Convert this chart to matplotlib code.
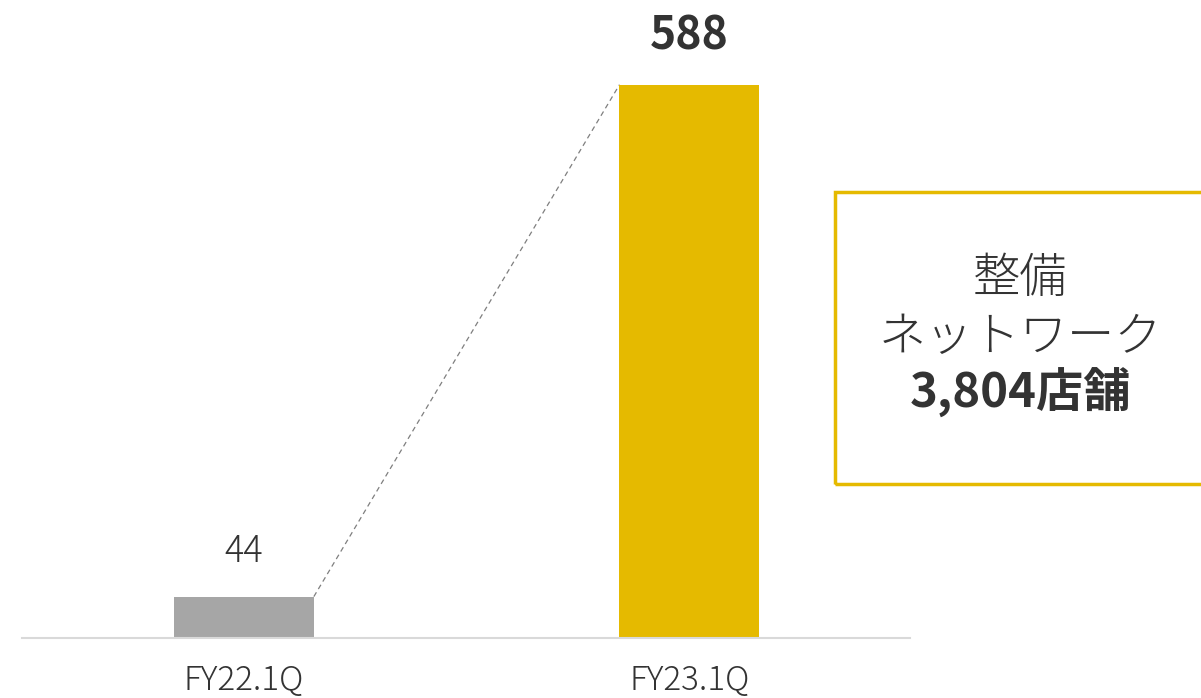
import matplotlib
matplotlib.use("Agg")
import matplotlib.pyplot as plt
from matplotlib.patches import Rectangle

plt.rcParams['font.family'] = ['Noto Sans CJK JP', 'DejaVu Sans']

# Data
periods = ['FY22.1Q', 'FY23.1Q']
stores = [44, 588]
bar_colors = ['#A6A6A6', '#E5BA00']
network_lines = ['整備', 'ネットワーク']
network_total = '3,804店舗'

TEXT = '#333333'
GOLD = '#E5BA00'

W, H = 1201, 698
fig = plt.figure(figsize=(W / 100, H / 100), dpi=100)
ax = fig.add_axes([22 / W, 60 / H, 888 / W, 638 / H])

x = list(range(len(periods)))
bar_w = 0.314
ax.bar(x, stores, width=bar_w, color=bar_colors, zorder=2)

# dashed connector from first bar's top right to second bar's top left
ax.plot([x[0] + bar_w / 2, x[1] - bar_w / 2], [stores[0], stores[1]],
        ls=(0, (4, 3)), lw=0.9, color='#7F7F7F', zorder=1)

# value labels
ax.text(x[0], stores[0] + 27, f'{stores[0]}', ha='center', va='bottom',
        fontsize=26, fontweight='light', color=TEXT)
ax.text(x[1], stores[1] + 27, f'{stores[1]}', ha='center', va='bottom',
        fontsize=32, fontweight='bold', color=TEXT)

ax.set_xlim(-0.498, 1.495)
ax.set_ylim(0, 678)
ax.set_xticks(x)
ax.set_xticklabels(periods, fontsize=24, fontweight='light', color=TEXT)
ax.tick_params(axis='x', length=0, pad=18)
ax.set_yticks([])
for side in ['top', 'right', 'left']:
    ax.spines[side].set_visible(False)
ax.spines['bottom'].set_color('#D9D9D9')
ax.spines['bottom'].set_linewidth(1.5)

# network summary box
box = Rectangle((835 / W, (H - 484) / H), 380 / W, 292 / H,
                transform=fig.transFigure, fill=False, edgecolor=GOLD, lw=2.5)
fig.patches.append(box)
for line, y_px in zip(network_lines, [278, 337]):
    fig.text(1020 / W, 1 - y_px / H, line, ha='center', va='center',
             fontsize=34, fontweight='light', color=TEXT)
fig.text(1020 / W, 1 - 393 / H, network_total, ha='center', va='center',
         fontsize=34, fontweight='bold', color=TEXT)

fig.savefig('out.png', dpi=100)
